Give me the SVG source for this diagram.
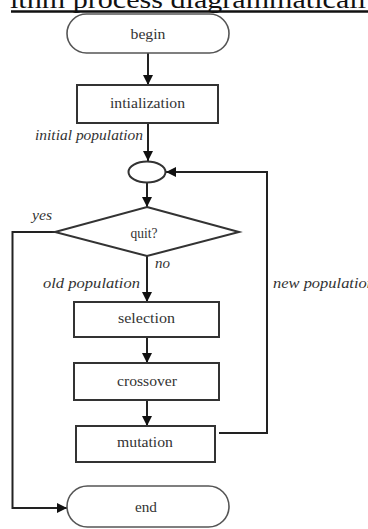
<svg xmlns="http://www.w3.org/2000/svg" width="368" height="529" viewBox="0 0 368 529">
  <style>
    .shape { fill: #ffffff; stroke: #333333; stroke-width: 2; }
    .term { fill: #ffffff; stroke: #555555; stroke-width: 1.6; }
    .wire { fill: none; stroke: #222222; stroke-width: 2; }
    .lbl { font-family: "Liberation Serif", "Times New Roman", serif; font-size: 15px; fill: #333333; text-anchor: middle; }
    .note { font-family: "Liberation Serif", "Times New Roman", serif; font-size: 14.5px; font-style: italic; fill: #333333; }
  </style>
  <defs>
    <marker id="arrow" viewBox="0 0 10 10" refX="10" refY="5" markerWidth="10" markerHeight="10" markerUnits="userSpaceOnUse" orient="auto">
      <path d="M0,0 L10,5 L0,10 Z" fill="#111111"/>
    </marker>
  </defs>
  <rect width="368" height="529" fill="#ffffff"/>

  <!-- heading, clipped by the top edge -->
  <g id="heading">
    <text x="10" y="8" font-family="Liberation Serif, Times New Roman, serif" font-size="26" fill="#111111" textLength="356" lengthAdjust="spacingAndGlyphs">ithm process diagrammaticall</text>
    <line x1="11" y1="11.5" x2="368" y2="11.5" stroke="#111111" stroke-width="2.5"/>
  </g>

  <!-- connectors -->
  <g id="connectors">
    <path class="wire" d="M148,53 L148,85" marker-end="url(#arrow)"/>
    <path class="wire" d="M148,123 L148,161" marker-end="url(#arrow)"/>
    <path class="wire" d="M147,183 L147,207" marker-end="url(#arrow)"/>
    <path class="wire" d="M147,256 L147,302" marker-end="url(#arrow)"/>
    <path class="wire" d="M147,337 L147,363" marker-end="url(#arrow)"/>
    <path class="wire" d="M147,400 L147,426" marker-end="url(#arrow)"/>
    <path class="wire" d="M219,433 L267,433 L267,172 L166,172" marker-end="url(#arrow)"/>
    <path class="wire" d="M55,232 L12.5,232 L12.5,508 L67,508" marker-end="url(#arrow)"/>
  </g>

  <!-- edge labels -->
  <g id="labels">
    <text class="note" x="35" y="140" textLength="108" lengthAdjust="spacingAndGlyphs">initial population</text>
    <text class="note" x="32" y="220" textLength="20" lengthAdjust="spacingAndGlyphs">yes</text>
    <text class="note" x="155" y="268" textLength="15" lengthAdjust="spacingAndGlyphs">no</text>
    <text class="note" x="43" y="288" textLength="97" lengthAdjust="spacingAndGlyphs">old population</text>
    <text class="note" x="273" y="288" textLength="102" lengthAdjust="spacingAndGlyphs">new population</text>
  </g>

  <g id="begin">
    <rect class="term" x="67" y="14" width="162" height="39" rx="19.5" ry="19.5"/>
    <text class="lbl" x="148" y="39" textLength="35" lengthAdjust="spacingAndGlyphs">begin</text>
  </g>

  <g id="initialization">
    <rect class="shape" x="77" y="85" width="141" height="38"/>
    <text class="lbl" x="147.5" y="108" textLength="75" lengthAdjust="spacingAndGlyphs">intialization</text>
  </g>

  <g id="merge">
    <ellipse class="shape" cx="147" cy="172" rx="18.5" ry="10.5"/>
  </g>

  <g id="quit">
    <polygon class="shape" points="147,207 239,232 147,256 55,232"/>
    <text class="lbl" x="144" y="238" textLength="27" lengthAdjust="spacingAndGlyphs">quit?</text>
  </g>

  <g id="selection">
    <rect class="shape" x="74" y="302" width="145" height="35"/>
    <text class="lbl" x="146.5" y="323" textLength="57" lengthAdjust="spacingAndGlyphs">selection</text>
  </g>

  <g id="crossover">
    <rect class="shape" x="74" y="363" width="145" height="37"/>
    <text class="lbl" x="147" y="386" textLength="60" lengthAdjust="spacingAndGlyphs">crossover</text>
  </g>

  <g id="mutation">
    <rect class="shape" x="76" y="426" width="139" height="36"/>
    <text class="lbl" x="145" y="447" textLength="56" lengthAdjust="spacingAndGlyphs">mutation</text>
  </g>

  <g id="end">
    <rect class="term" x="67" y="486" width="162" height="41" rx="20.5" ry="20.5"/>
    <text class="lbl" x="146" y="512" textLength="22" lengthAdjust="spacingAndGlyphs">end</text>
  </g>
</svg>
